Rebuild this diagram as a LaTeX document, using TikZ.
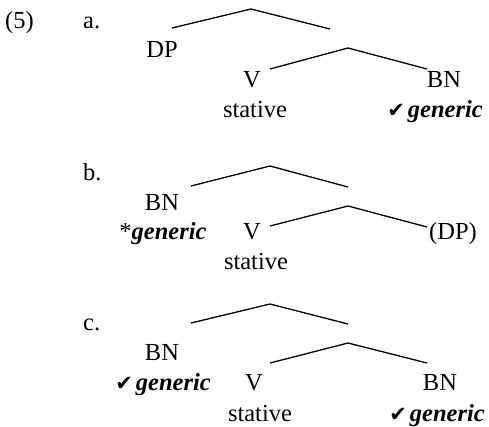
\documentclass[tikz,border=0pt]{standalone}
\usepackage{fontspec}
\setmainfont{Liberation Serif}
\newfontfamily\symfont{DejaVu Sans}
\newcommand{\chk}{{\symfont\fontsize{21}{24}\selectfont ✔}\hspace{3pt}}
\newcommand{\gen}{\textbf{\textit{generic}}}
\begin{document}
\begin{tikzpicture}[x=1pt,y=-1pt,
  lbl/.style={inner sep=0pt,anchor=base,font=\fontsize{24.5}{28}\selectfont},
  lblw/.style={lbl,anchor=base west},
  branch/.style={line width=1.3pt}]
\useasboundingbox (0,0) rectangle (489,426);
% ---------- (5) a.
\node[lblw] (num) at (5,28) {(5)};
\node[lblw] (la) at (83,28) {a.};
\coordinate (a0l) at (172,28);
\coordinate (a0) at (251,9);
\coordinate (a0r) at (330,29);
\coordinate (a1) at (348,48);
\coordinate (a1l) at (270,69);
\coordinate (a1r) at (427,69);
\draw[branch] (a0l) -- (a0) -- (a0r);
\draw[branch] (a1l) -- (a1) -- (a1r);
\node[lbl] (aDP) at (162,57) {DP};
\node[lbl] (aV) at (252,87) {V};
\node[lbl] (aBN) at (444,87) {BN};
\node[lbl] (aSt) at (255,117) {stative};
\node[lbl] (aGen) at (435,117) {\chk\gen};
% ---------- b.
\node[lblw] (lb) at (83,180) {b.};
\coordinate (b0l) at (191,186);
\coordinate (b0) at (270,166);
\coordinate (b0r) at (348,187);
\coordinate (b1) at (348,206);
\coordinate (b1l) at (270,226);
\coordinate (b1r) at (427,227);
\draw[branch] (b0l) -- (b0) -- (b0r);
\draw[branch] (b1l) -- (b1) -- (b1r);
\node[lbl] (bBN) at (162,210) {BN};
\node[lbl] (bGen) at (163,239) {*\gen};
\node[lbl] (bV) at (252,239) {V};
\node[lbl] (bDP) at (453,239) {(DP)};
\node[lbl] (bSt) at (256,269) {stative};
% ---------- c.
\node[lblw] (lc) at (83,330) {c.};
\coordinate (c0l) at (191,323);
\coordinate (c0) at (270,304);
\coordinate (c0r) at (348,324);
\coordinate (c1) at (348,343);
\coordinate (c1l) at (270,363);
\coordinate (c1r) at (427,363);
\draw[branch] (c0l) -- (c0) -- (c0r);
\draw[branch] (c1l) -- (c1) -- (c1r);
\node[lbl] (cBN) at (162,360) {BN};
\node[lbl] (cGen) at (163,390) {\chk\gen};
\node[lbl] (cV) at (254,390) {V};
\node[lbl] (cBN2) at (440,390) {BN};
\node[lbl] (cSt) at (260,421) {stative};
\node[lbl] (cGen2) at (437,421) {\chk\gen};
\end{tikzpicture}
\end{document}
